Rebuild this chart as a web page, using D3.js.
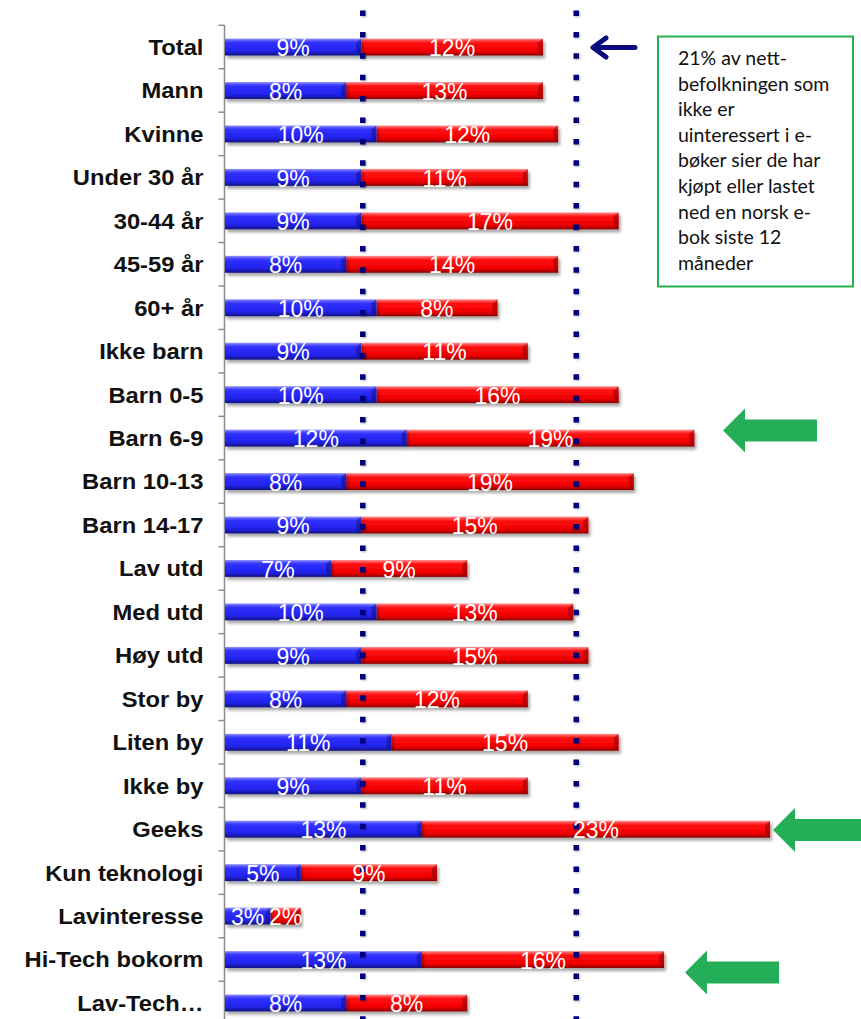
<!DOCTYPE html>
<html>
<head>
<meta charset="utf-8">
<script src="https://cdn.jsdelivr.net/npm/d3@7"></script>
<style>
  html, body { margin: 0; padding: 0; background: #ffffff; }
  svg { display: block; }
</style>
</head>
<body>
<svg id="chart" width="861" height="1019"></svg>
<script>
// ---------- data ----------
const categories = ["Total","Mann","Kvinne","Under 30 år","30-44 år","45-59 år","60+ år","Ikke barn",
  "Barn 0-5","Barn 6-9","Barn 10-13","Barn 14-17","Lav utd","Med utd","Høy utd","Stor by","Liten by",
  "Ikke by","Geeks","Kun teknologi","Lavinteresse","Hi-Tech bokorm","Lav-Tech…"];
const blueValues = [9,8,10,9,9,8,10,9,10,12,8,9,7,10,9,8,11,9,13,5,3,13,8];
const redValues  = [12,13,12,11,17,14,8,11,16,19,19,15,9,13,15,12,15,11,23,9,2,16,8];
const referenceLines = [9.1, 23.2];
const noteLines = ["21% av nett-","befolkningen som","ikke er","uinteressert i e-","bøker sier de har",
  "kjøpt eller lastet","ned en norsk e-","bok siste 12","måneder"];

// ---------- setup ----------
const svg = d3.select("#chart");
const W = 861, H = 1019;
svg.append("rect").attr("width", W).attr("height", H).attr("fill", "#fff");

const axisX = 224.5;
const x = d3.scaleLinear().domain([0, 40]).range([225, 225 + 15.14 * 40]);
const y = d3.scaleBand().domain(categories).range([25.3, 1024.7])
  .paddingInner(0.61).paddingOuter(0.305);
const step = y.step();

const defs = svg.append("defs");
function grad(id, stops) {
  const g = defs.append("linearGradient").attr("id", id)
    .attr("x1", 0).attr("y1", 0).attr("x2", 0).attr("y2", 1);
  stops.forEach(s => g.append("stop").attr("offset", s[0]).attr("stop-color", s[1]));
}
grad("gBlue", [[0,"#9a9aff"],[0.12,"#5858ff"],[0.25,"#3030ff"],[0.72,"#2323ee"],[0.86,"#1b1bbb"],[1,"#12127e"]]);
grad("gRed",  [[0,"#ff9a9a"],[0.12,"#ff4a4a"],[0.25,"#ff1010"],[0.72,"#f20000"],[0.86,"#c80000"],[1,"#880000"]]);

const sh = defs.append("filter").attr("id", "shadow").attr("x", "-5%").attr("y", "-40%").attr("width", "115%").attr("height", "200%");
sh.append("feDropShadow").attr("dx", 2).attr("dy", 3).attr("stdDeviation", 1.6)
  .attr("flood-color", "#000").attr("flood-opacity", 0.35);
const dsh = defs.append("filter").attr("id", "dotshadow").attr("filterUnits", "userSpaceOnUse")
  .attr("x", 0).attr("y", 0).attr("width", W).attr("height", H);
dsh.append("feDropShadow").attr("dx", 1).attr("dy", 1).attr("stdDeviation", 1)
  .attr("flood-color", "#000").attr("flood-opacity", 0.3);

// ---------- axis ----------
const yAxis = d3.axisLeft(y).tickSize(0).tickPadding(19.5);
const axisG = svg.append("g").attr("transform", `translate(${axisX},0)`).call(yAxis);
axisG.select(".domain").remove();
axisG.selectAll("text")
  .attr("font-family", "'Liberation Sans', Arial, sans-serif")
  .attr("font-size", 22).attr("font-weight", "bold").attr("fill", "#111")
  .attr("dy", "0.36em")
  .attr("transform", "scale(1.08,1)");

// axis line + boundary ticks
svg.append("line").attr("x1", axisX).attr("x2", axisX).attr("y1", 25).attr("y2", H)
  .attr("stroke", "#8c8c8c").attr("stroke-width", 1.5);
const bounds = categories.map(c => y(c) - (step - y.bandwidth()) / 2).concat([y(categories[categories.length-1]) + y.bandwidth() + (step - y.bandwidth())/2]);
svg.append("g").selectAll("line").data(bounds).join("line")
  .attr("x1", axisX - 6).attr("x2", axisX).attr("y1", d => d).attr("y2", d => d)
  .attr("stroke", "#8c8c8c").attr("stroke-width", 1.5);

// ---------- bars ----------
const rows = categories.map((c, i) => ({ c, b: blueValues[i], r: redValues[i] }));
const barG = svg.append("g");
const row = barG.selectAll("g").data(rows).join("g");
row.append("rect").attr("class", "red")
  .attr("x", d => x(d.b)).attr("y", d => y(d.c))
  .attr("width", d => x(d.b + d.r) - x(d.b)).attr("height", y.bandwidth())
  .attr("fill", "url(#gRed)").attr("filter", "url(#shadow)");
row.append("rect").attr("class", "blue")
  .attr("x", x(0)).attr("y", d => y(d.c))
  .attr("width", d => x(d.b) - x(0)).attr("height", y.bandwidth())
  .attr("fill", "url(#gBlue)").attr("filter", "url(#shadow)");
// right-end bevel on each segment
row.append("path")
  .attr("d", d => { const xe = x(d.b + d.r), t = y(d.c), h = y.bandwidth();
    return `M${xe},${t} L${xe-5},${t+4} L${xe-5},${t+h-4} L${xe},${t+h} Z`; })
  .attr("fill", "#7a0000").attr("opacity", 0.45);
row.append("path")
  .attr("d", d => { const xe = x(d.b), t = y(d.c), h = y.bandwidth();
    return `M${xe},${t} L${xe-5},${t+4} L${xe-5},${t+h-4} L${xe},${t+h} Z`; })
  .attr("fill", "#0a0a70").attr("opacity", 0.45);

// ---------- dotted reference lines ----------
svg.append("g").attr("filter", "url(#dotshadow)").selectAll("line").data(referenceLines).join("line")
  .attr("x1", d => x(d)).attr("x2", d => x(d)).attr("y1", 10.5).attr("y2", H)
  .attr("stroke", "#00007c").attr("stroke-width", 5.5)
  .attr("stroke-dasharray", "5.5 15.9");

// ---------- value labels ----------
const lblFont = "'Liberation Sans', Arial, sans-serif";
const lblG = svg.append("g").attr("font-family", lblFont).attr("font-size", 23)
  .attr("fill", "#fff").attr("text-anchor", "middle");
lblG.selectAll("text.b").data(rows).join("text").attr("class", "b")
  .attr("x", d => (x(0) + x(d.b)) / 2).attr("y", d => y(d.c) + y.bandwidth() / 2)
  .attr("dy", "0.4em")
  .text(d => d.b + "%");
lblG.selectAll("text.r").data(rows).join("text").attr("class", "r")
  .attr("x", d => (x(d.b) + x(d.b + d.r)) / 2).attr("y", d => y(d.c) + y.bandwidth() / 2)
  .attr("dy", "0.4em")
  .text(d => d.r + "%");

// ---------- annotations ----------
// navy arrow at Total
const navy = svg.append("g").attr("stroke", "#0b0b80").attr("stroke-width", 5)
  .attr("fill", "none").attr("stroke-linecap", "round").attr("stroke-linejoin", "round");
navy.append("line").attr("x1", 594).attr("x2", 635).attr("y1", 47.5).attr("y2", 47.5);
navy.append("polyline").attr("points", "606,38 593,47.5 606,57");

// green block arrows
const greenArrows = [
  { tip: 723, cy: 430.5, end: 817 },
  { tip: 773, cy: 830, end: 880 },
  { tip: 685, cy: 972.5, end: 779 }
];
svg.append("g").selectAll("path").data(greenArrows).join("path")
  .attr("d", a => `M${a.tip},${a.cy} L${a.tip+22},${a.cy-22} L${a.tip+22},${a.cy-11} L${a.end},${a.cy-11} L${a.end},${a.cy+11} L${a.tip+22},${a.cy+11} L${a.tip+22},${a.cy+22} Z`)
  .attr("fill", "#25ae58");

// note box
svg.append("rect").attr("x", 658).attr("y", 36.5).attr("width", 195).attr("height", 250)
  .attr("fill", "#fff").attr("stroke", "#22b14c").attr("stroke-width", 2);
svg.append("g").selectAll("text").data(noteLines).join("text")
  .attr("x", 678).attr("y", (d, i) => 65 + i * 25.6)
  .attr("font-family", "Lato, 'Open Sans', sans-serif").attr("font-size", 19.5).attr("fill", "#111")
  .text(d => d);
</script>
</body>
</html>
